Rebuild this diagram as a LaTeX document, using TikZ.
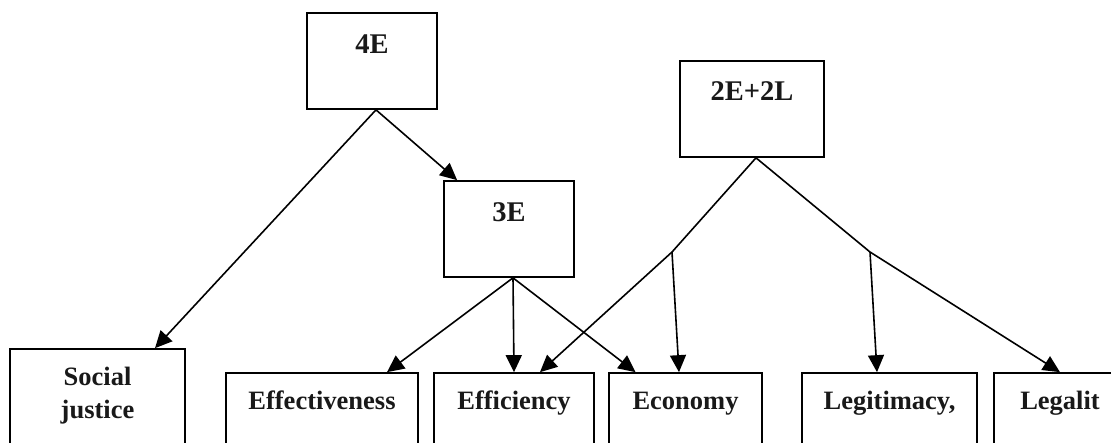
\documentclass[tikz,border=0pt]{standalone}
\usepackage{fontspec}
\setmainfont{Liberation Serif}
\usetikzlibrary{arrows.meta}
\begin{document}
\begin{tikzpicture}[x=1pt,y=-1pt,
  box/.style={draw,line width=1.7pt,rectangle,inner sep=0pt},
  toplbl/.style={anchor=base,inner sep=0pt,font=\fontsize{28.5}{32}\selectfont\bfseries,text=black!90},
  botlbl/.style={anchor=base,inner sep=0pt,font=\fontsize{26.5}{30}\selectfont\bfseries,text=black!90},
  conn/.style={line width=1.6pt},
  arr/.style={conn,-{Triangle[length=17pt,width=16pt]}}]
\clip (0,0) rectangle (1111,442);
\fill[white] (0,0) rectangle (1111,442);
% boxes
\node[box,minimum width=130pt,minimum height=96pt] (b4E) at (372,61) {};
\node[box,minimum width=144pt,minimum height=96pt] (b2E) at (752,109) {};
\node[box,minimum width=130pt,minimum height=96pt] (b3E) at (509,229) {};
\node[box,minimum width=175pt,minimum height=120pt] (bSJ) at (97.5,409) {};
\node[box,minimum width=192pt,minimum height=100pt] (bEff) at (322,423) {};
\node[box,minimum width=160pt,minimum height=100pt] (bEfc) at (514,423) {};
\node[box,minimum width=153pt,minimum height=100pt] (bEco) at (685.5,423) {};
\node[box,minimum width=175pt,minimum height=100pt] (bLeg) at (889.5,423) {};
\node[box,minimum width=132pt,minimum height=100pt] (bLgl) at (1060,423) {};
% labels
\node[toplbl] (t4E) at (372,53) {4E};
\node[toplbl] (t2E) at (752,100) {2E+2L};
\node[toplbl] (t3E) at (509,221) {3E};
\node[botlbl] (tSJa) at (97.5,385) {Social};
\node[botlbl] (tSJb) at (97.5,418) {justice};
\node[botlbl] (tEff) at (322,409) {Effectiveness};
\node[botlbl] (tEfc) at (514,409) {Efficiency};
\node[botlbl] (tEco) at (685.5,409) {Economy};
\node[botlbl] (tLeg) at (889.5,409) {Legitimacy,};
\node[botlbl] (tLgl) at (1060,409) {Legalit};
% branch points
\coordinate (bl) at (672,252);
\coordinate (br) at (870,252);
% connectors
\draw[arr] ([xshift=4pt]b4E.south) -- ([xshift=14pt]b3E.north west);
\draw[arr] ([xshift=4pt]b4E.south) -- ([xshift=57.5pt]bSJ.north);
\draw[arr] ([xshift=4pt]b3E.south) -- ([xshift=65pt]bEff.north);
\draw[arr] ([xshift=4pt]b3E.south) -- (bEfc.north);
\draw[arr] ([xshift=4pt]b3E.south) -- ([xshift=-50pt]bEco.north);
\draw[conn] ([xshift=4pt]b2E.south) -- (bl);
\draw[conn] ([xshift=4pt]b2E.south) -- (br);
\draw[arr] (bl) -- ([xshift=26pt]bEfc.north);
\draw[arr] (bl) -- ([xshift=-6.5pt]bEco.north);
\draw[arr] (br) -- ([xshift=-12.5pt]bLeg.north);
\draw[arr] (br) -- (bLgl.north);
\end{tikzpicture}
\end{document}
